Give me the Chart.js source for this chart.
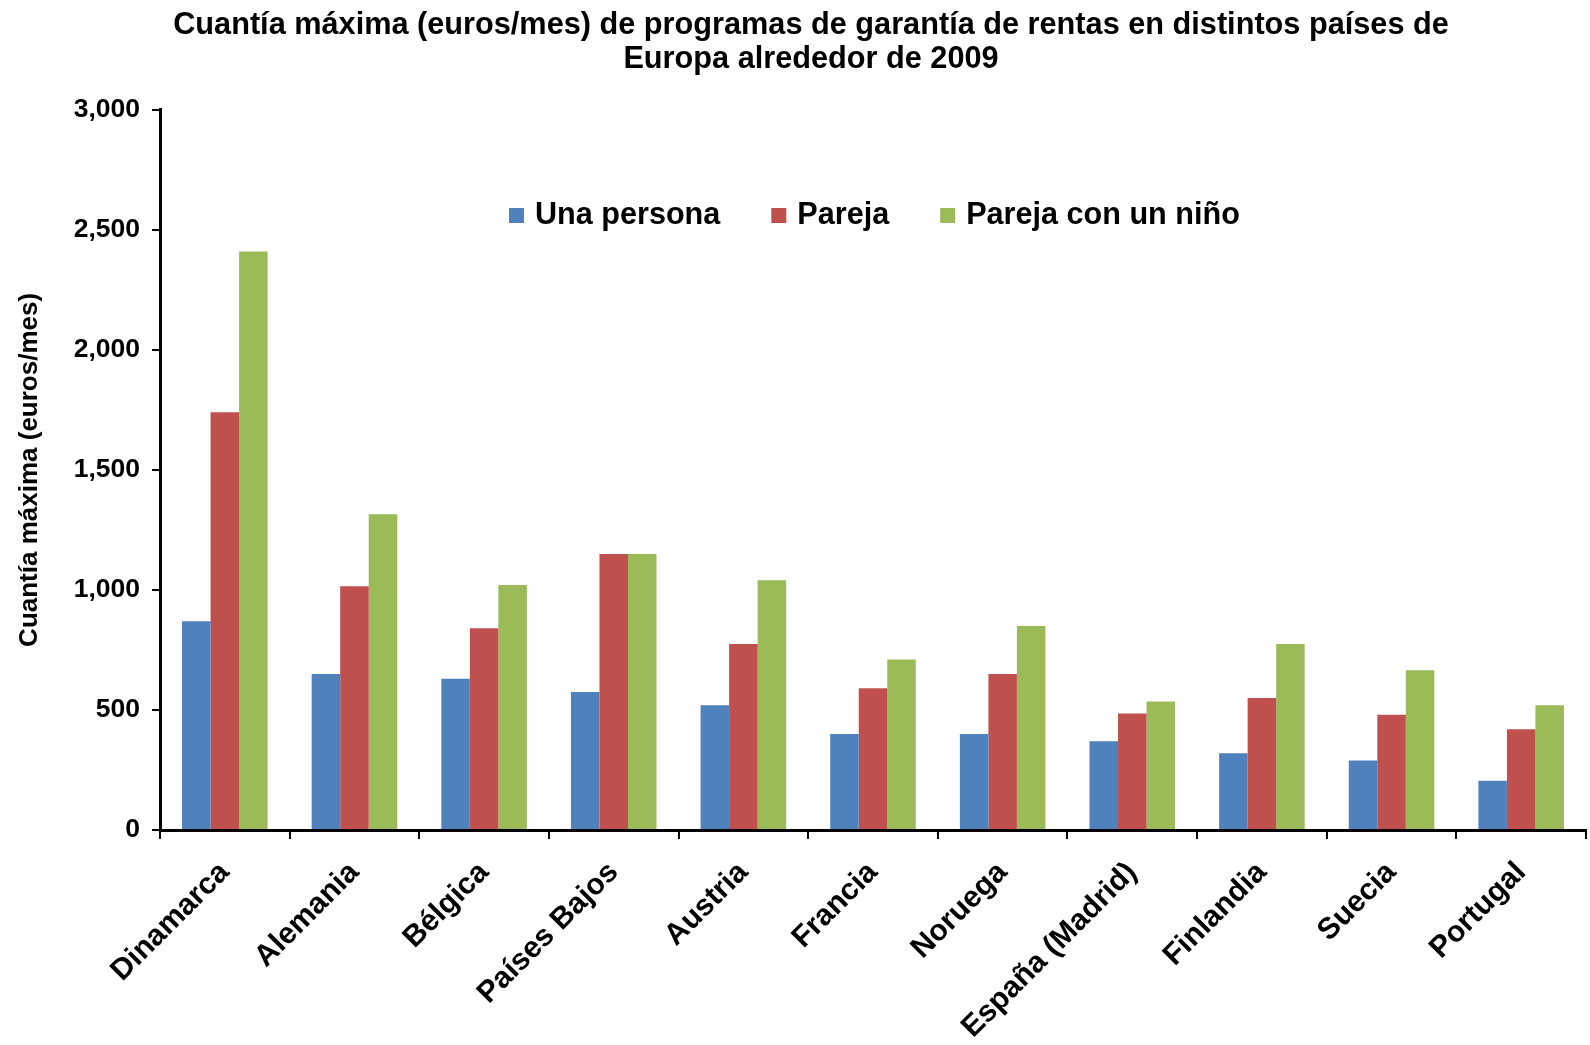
<!DOCTYPE html>
<html>
<head>
<meta charset="utf-8">
<script src="https://cdn.jsdelivr.net/npm/chart.js"></script>
<style>
  body { margin: 0; background: #fff; }
</style>
</head>
<body>
<canvas id="myChart" width="1590" height="1045"></canvas>
<script>
  const paises = ['Dinamarca', 'Alemania', 'Bélgica', 'Países Bajos', 'Austria', 'Francia',
                  'Noruega', 'España (Madrid)', 'Finlandia', 'Suecia', 'Portugal'];
  const unaPersona = [870, 650, 630, 575, 520, 400, 400, 370, 320, 290, 205];
  const pareja = [1740, 1015, 840, 1150, 775, 590, 650, 485, 550, 480, 420];
  const parejaConNino = [2410, 1315, 1020, 1150, 1040, 710, 850, 535, 775, 665, 520];

  const font = "'Liberation Sans', Arial, sans-serif";

  // legend drawn inside the plot, like the original
  const insideLegend = {
    id: 'insideLegend',
    afterLayout(chart) {
      chart.titleBlock.left = 36;
    },
    afterDraw(chart) {
      const ctx = chart.ctx;
      ctx.save();
      ctx.font = 'bold 30.6px ' + font;
      ctx.textBaseline = 'middle';
      let x = 509;
      const y = 216;
      chart.data.datasets.forEach(ds => {
        ctx.fillStyle = ds.backgroundColor;
        ctx.fillRect(x, y - 8, 15, 15);
        ctx.fillStyle = '#000';
        ctx.fillText(ds.label, x + 26, y);
        x += 26 + ctx.measureText(ds.label).width + 51;
      });
      ctx.restore();
    }
  };

  const ctx = document.getElementById('myChart');
  new Chart(ctx, {
    type: 'bar',
    data: {
      labels: paises,
      datasets: [
        { label: 'Una persona', data: unaPersona, backgroundColor: '#4F81BD' },
        { label: 'Pareja', data: pareja, backgroundColor: '#C0504D' },
        { label: 'Pareja con un niño', data: parejaConNino, backgroundColor: '#9BBB59' }
      ]
    },
    options: {
      responsive: false,
      animation: false,
      layout: { padding: { left: 0, right: 4, top: 0, bottom: 0 } },
      datasets: {
        bar: { categoryPercentage: 0.66, barPercentage: 1.0 }
      },
      plugins: {
        legend: { display: false },
        tooltip: { enabled: false },
        title: {
          display: true,
          text: ['Cuantía máxima (euros/mes) de programas de garantía de rentas en distintos países de',
                 'Europa alrededor de 2009'],
          color: '#000',
          font: { family: font, size: 30.7, weight: 'bold', lineHeight: 1.12 },
          padding: { top: 8, bottom: 33 }
        }
      },
      scales: {
        x: {
          afterFit: s => { s.height = 215; },
          border: { display: true, color: '#000', width: 3 },
          grid: {
            offset: true,
            drawOnChartArea: false,
            drawTicks: true,
            tickLength: 9,
            color: '#000',
            lineWidth: 2
          },
          ticks: {
            color: '#000',
            font: { family: font, size: 30, weight: 'bold' },
            minRotation: 45,
            maxRotation: 45,
            autoSkip: false,
            padding: 16
          }
        },
        y: {
          min: 0,
          max: 3000,
          afterFit: s => { s.width = 160; },
          border: { display: true, color: '#000', width: 3 },
          grid: {
            drawOnChartArea: false,
            drawTicks: true,
            tickLength: 8,
            color: '#000',
            lineWidth: 2
          },
          ticks: {
            stepSize: 500,
            color: '#000',
            padding: 12,
            font: { family: font, size: 26.5, weight: 'bold' },
            callback: v => v.toLocaleString('en-US')
          },
          title: {
            display: true,
            text: 'Cuantía máxima (euros/mes)',
            color: '#000',
            font: { family: font, size: 26, weight: 'bold' },
            padding: { top: 14, bottom: 0 }
          }
        }
      }
    },
    plugins: [insideLegend]
  });
</script>
</body>
</html>
